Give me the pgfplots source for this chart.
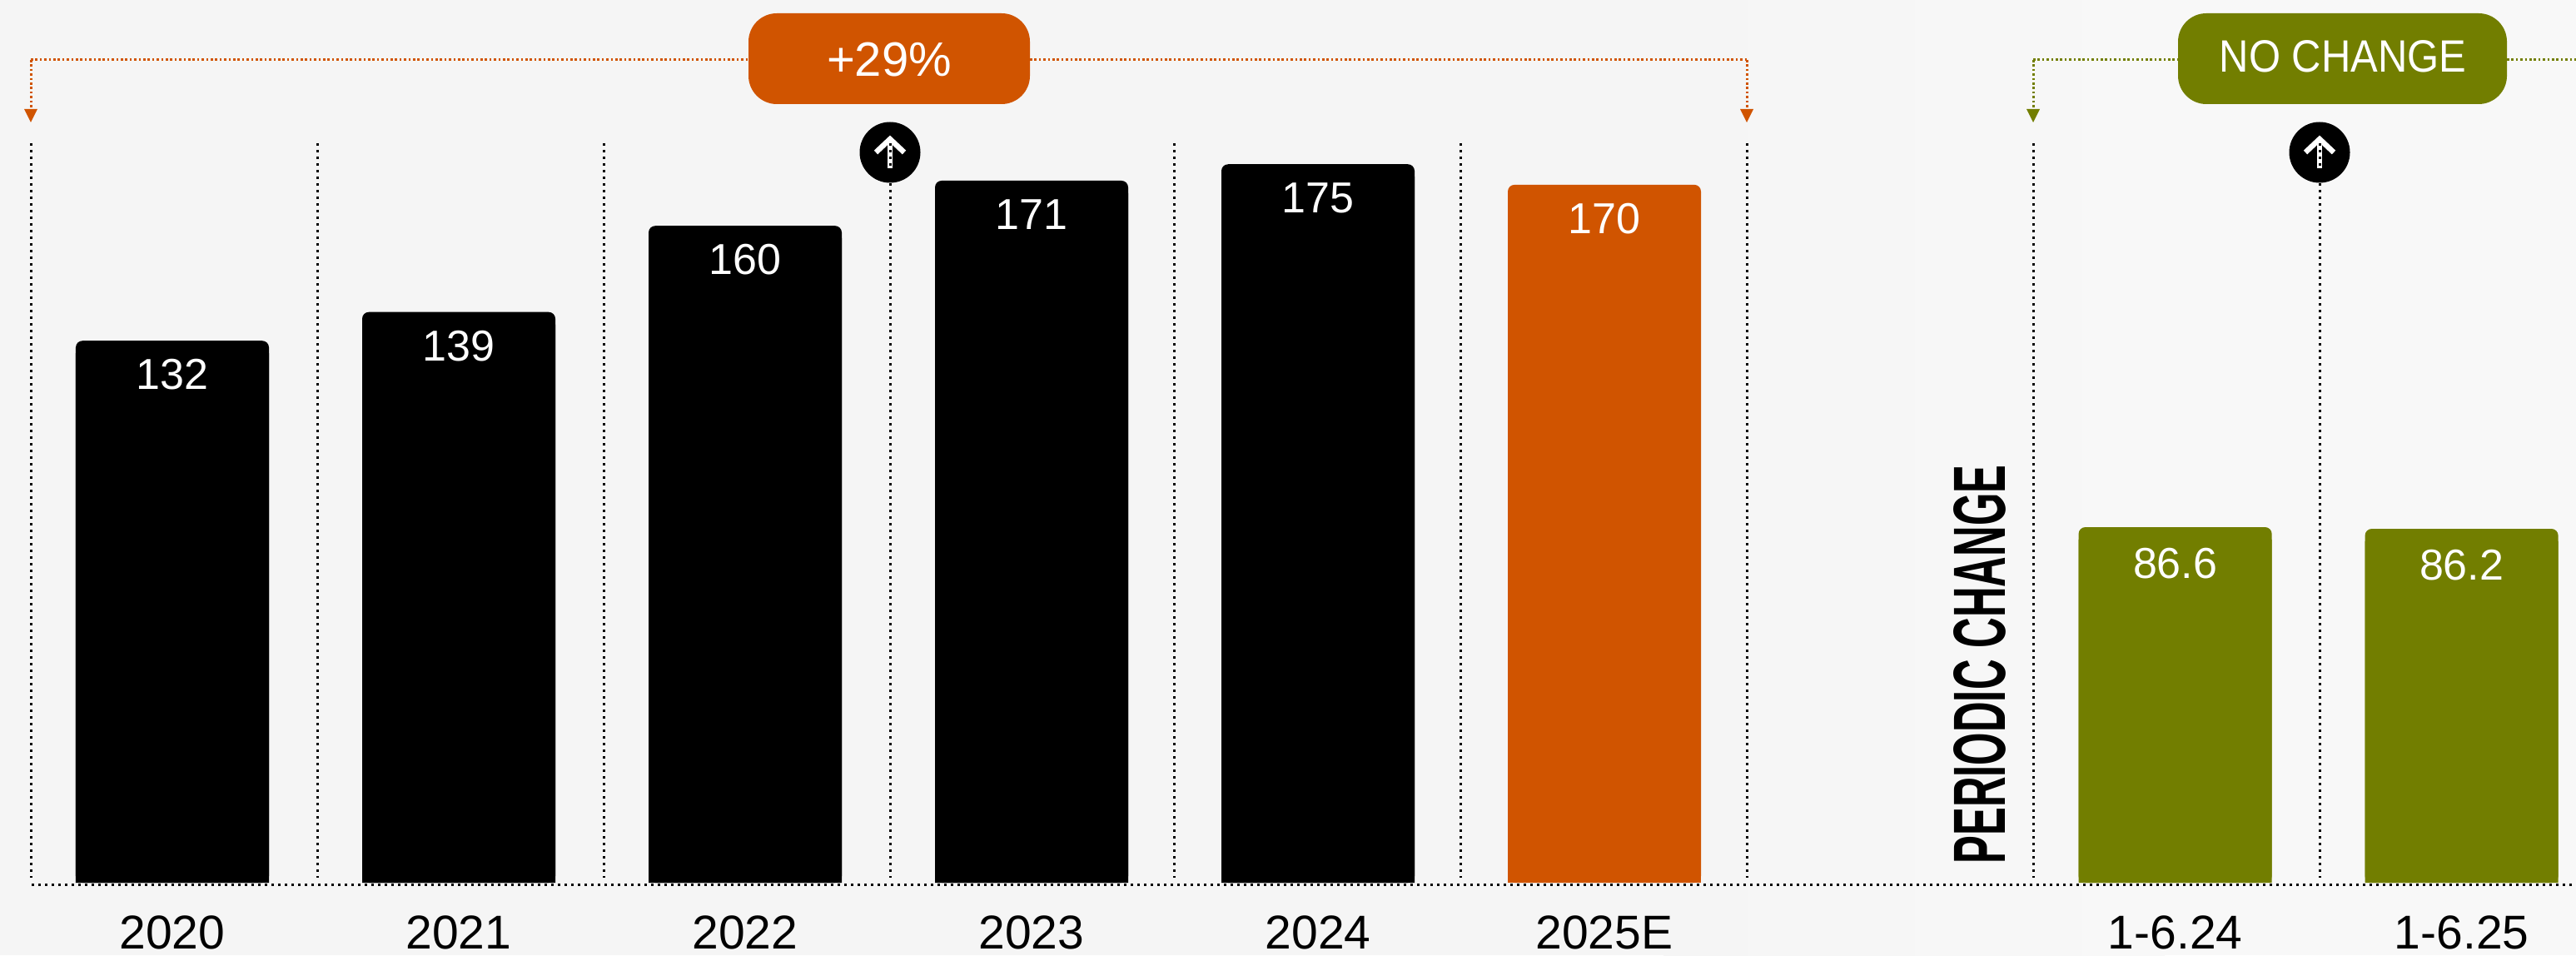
\documentclass[border=0pt]{standalone}
\usepackage{pgfplots}
\usepackage{pgfplotstable}
\usepackage{fontspec}
\pgfplotsset{compat=1.18}
\setmainfont{Liberation Sans}

\definecolor{orangebar}{HTML}{D05400}
\definecolor{olivebar}{HTML}{727E00}
\definecolor{bgleft}{HTML}{F5F5F5}
\definecolor{bgright}{HTML}{F8F8F8}

% position, value, printed label
\pgfplotstableread{
x v lab
0 132 132
1 139 139
2 160 160
3 171 171
4 175 175
}\annualtable
\pgfplotstableread{
x v lab
5 170 170
}\estimatetable
\pgfplotstableread{
x v lab
6.993 86.6 86.6
7.993 86.2 86.2
}\periodtable

% square lower body plus a rounded cap with the printed value
\newcommand{\barpair}[3]{%
  \addplot[ybar, bar shift=0pt, bar width=58pt, draw=none, fill=#1]
    table[x=x, y expr=\thisrow{v}-3] {#2};
  \addplot[ybar, bar shift=0pt, bar width=58pt, draw=none, fill=#1,
    rounded corners=2pt, nodes near coords, point meta=explicit symbolic,
    every node near coord/.append style={yshift=#3}]
    table[x=x, y=v, meta=lab] {#2};
}

\tikzset{
  sep/.style={black, line width=0.75pt, dash pattern=on 0.75pt off 1.25pt},
  bracket/.style={line width=0.75pt, dash pattern=on 0.65pt off 0.7pt},
  pill/.style={text=white, inner sep=0pt, anchor=center},
}

\begin{document}
\begin{tikzpicture}
  \path[use as bounding box] (0,-21.75pt) rectangle (773.5pt,265pt);
  \fill[bgleft] (0,-21.75pt) rectangle (500pt,265pt);
  \shade[left color=bgleft, right color=bgright] (499.5pt,-21.75pt) rectangle (650pt,265pt);
  \fill[bgright] (649.5pt,-21.75pt) rectangle (773.5pt,265pt);

  \begin{axis}[
    at={(0,0)}, anchor=south west,
    scale only axis, width=773.5pt, height=265pt,
    xmin=-0.60174, xmax=8.39244,
    ymin=0, ymax=215.01,
    axis line style={draw=none},
    tick style={draw=none},
    ytick=\empty,
    xtick={0,1,2,3,4,5,6.993,7.993},
    xticklabels={2020,2021,2022,2023,2024,2025E,1-6.24,1-6.25},
    xticklabel style={anchor=base, yshift=-19.75pt,
      font=\fontsize{14.25pt}{16pt}\selectfont},
    every node near coord/.append style={anchor=base, text=white,
      font=\fontsize{13pt}{16pt}\selectfont},
    clip=false,
  ]
    \barpair{black}{\annualtable}{-14.6pt}
    \barpair{orangebar}{\estimatetable}{-14.6pt}
    \barpair{olivebar}{\periodtable}{-15.25pt}
  \end{axis}

  % annotation layer, measured from the top edge downwards
  \begin{scope}[x=0.25pt, y=-0.25pt, yshift=265pt]
    % up-arrow badges
    \foreach \cx in {1069,2786} {
      \fill[black] (\cx,183) circle[radius=36.5];
      \draw[white, line width=1.6pt, line join=miter]
        (\cx-17,183) -- (\cx,167) -- (\cx+17,183);
      \draw[white, line width=1.6pt] (\cx,170) -- (\cx,202);
    }
    % column separators
    \foreach \sx in {37,381,725,1069,1410,1754,2098,2442,2786}
      \draw[sep] (\sx,172) -- (\sx,1054);
    % baseline
    \draw[sep] (38,1062) -- (3094,1062);

    % +29% bracket
    \draw[orangebar, bracket]
      (37,72) -- (899,72) (1237,72) -- (2098,72);
    \draw[orangebar, bracket]
      (37,72) -- (37,132) (2098,72) -- (2098,132);
    \fill[orangebar] (29,131) -- (45,131) -- (37,147) -- cycle;
    \fill[orangebar] (2090,131) -- (2106,131) -- (2098,147) -- cycle;
    \fill[orangebar, rounded corners=8.5pt] (899,16) rectangle (1237,125);
    \node[pill, font=\fontsize{14.5pt}{16pt}\selectfont] at (1068,72) {+29\%};

    % NO CHANGE bracket
    \draw[olivebar, bracket]
      (2442,72) -- (2616,72) (3011,72) -- (3094,72);
    \draw[olivebar, bracket]
      (2442,72) -- (2442,132);
    \fill[olivebar] (2434,131) -- (2450,131) -- (2442,147) -- cycle;
    \fill[olivebar, rounded corners=8.5pt] (2616,16) rectangle (3011,125);
    \node[pill, font=\fontsize{13.6pt}{16pt}\selectfont] at (2814,67.5)
      {\scalebox{0.9}[1]{NO CHANGE}};

    % rotated caption of the period group
    \node[rotate=90, inner sep=0pt, anchor=center, text=black,
      font=\fontsize{22.2pt}{24pt}\selectfont\bfseries] at (2378,798)
      {\scalebox{0.571}[1]{PERIODIC CHANGE}};
  \end{scope}
\end{tikzpicture}
\end{document}
